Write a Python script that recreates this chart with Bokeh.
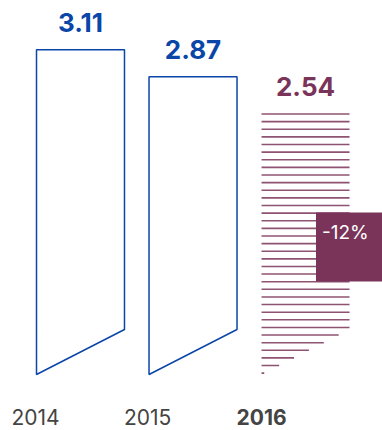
from bokeh.plotting import figure
from bokeh.models import Range1d, ColumnDataSource
from bokeh.embed import file_html
from bokeh.resources import INLINE
from bokeh.core.properties import value

# ---- data ----
years = ["2014", "2015", "2016"]
values = [3.11, 2.87, 2.54]
value_labels = ["3.11", "2.87", "2.54"]
change_label = "-12%"

BLUE = "#0a45a8"
MAROON = "#7a3459"
GREY = "#444444"
FONT = "Inter"

BASE = 0.226    # visual baseline of bars (bottom-left corner)
SLANT = 0.626   # bottom-right corner of the slanted bottom
HALF = 0.391    # half bar width (x units)
STEP = 0.0677   # hatch spacing (y units)

p = figure(width=382, height=430, x_range=Range1d(-0.711, 2.684),
           y_range=Range1d(-0.271, 3.548), output_backend="svg",
           toolbar_location=None, min_border=0,
           x_axis_type=None, y_axis_type=None)
p.grid.visible = False
p.outline_line_color = None
p.background_fill_color = "white"
p.border_fill_color = "white"

xs_idx = list(range(len(years)))

# outlined bars (2014, 2015)
px, py = [], []
for i in xs_idx[:2]:
    px.append([i - HALF, i + HALF, i + HALF, i - HALF])
    py.append([values[i], values[i], SLANT, BASE])
p.patches(xs=px, ys=py, fill_alpha=0, line_color=BLUE, line_width=1.5)

# hatched bar (2016)
i = 2
x0s, x1s, ys = [], [], []
y = values[i]
while y >= BASE - 1e-9:
    x0 = i - HALF
    frac = min(1.0, (y - BASE) / (SLANT - BASE))
    x1 = x0 + max(frac, 0.03) * 2 * HALF
    x0s.append(x0); x1s.append(x1); ys.append(y)
    y -= STEP
p.segment(x0=x0s, y0=ys, x1=x1s, y1=ys, line_color=MAROON, line_width=1.6, line_alpha=0.85)

# value labels
src_v = ColumnDataSource(dict(x=xs_idx, y=values, t=value_labels,
                              c=[BLUE, BLUE, MAROON]))
p.text(x="x", y="y", text="t", source=src_v, text_color="c",
       text_align="center", text_baseline="middle", y_offset=-27.5,
       text_font=value(FONT), text_font_size="26px", text_font_style="bold")

# year labels
src_y = ColumnDataSource(dict(x=[i - HALF for i in xs_idx], y=[BASE] * 3, t=years,
                              s=["normal", "normal", "bold"]))
p.text(x="x", y="y", text="t", source=src_y, text_color=GREY,
       text_align="left", text_baseline="middle", x_offset=-25, y_offset=42,
       text_font=value(FONT), text_font_size="21px", text_font_style="s")

# change box
box_left = 2 + 0.093
p.quad(left=[box_left], right=[2.684], top=[1.665], bottom=[1.052],
       fill_color=MAROON, line_color=None)
p.text(x=[box_left], y=[1.665], text=[change_label], text_color="white",
       text_align="left", text_baseline="middle", x_offset=6, y_offset=20,
       text_font=value(FONT), text_font_size="19px", text_font_style="normal")

open("out.html", "w").write(file_html(p, INLINE))
